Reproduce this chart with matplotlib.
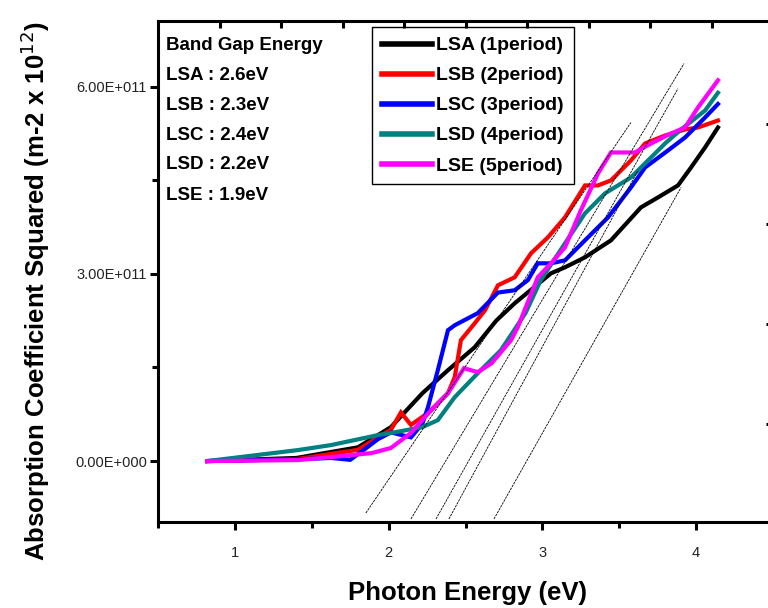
import numpy as np
import matplotlib
matplotlib.use("Agg")
from matplotlib import pyplot as plt
from matplotlib.ticker import FuncFormatter, MultipleLocator

plt.rcParams["font.family"] = ["Liberation Sans", "DejaVu Sans"]

# photon energy (eV) and alpha^2 (in units of 1e11)
lsa_x = [0.82, 1.40, 1.80, 2.015, 2.22, 2.386, 2.56, 2.70, 2.82, 3.056, 3.147, 3.277,
         3.446, 3.641, 3.752, 3.882, 3.967, 4.058, 4.142]
lsa_y = [0.0, 0.05, 0.22, 0.544, 1.088, 1.456, 1.824, 2.25, 2.528, 3.008, 3.104, 3.264,
         3.536, 4.064, 4.224, 4.416, 4.704, 5.024, 5.344]

lsb_x = [0.82, 1.40, 1.80, 1.93, 2.015, 2.08, 2.145, 2.256, 2.386, 2.43, 2.47, 2.56,
         2.627, 2.711, 2.82, 2.926, 3.036, 3.147, 3.277, 3.362, 3.446, 3.576, 3.668,
         3.798, 3.928, 4.012, 4.142]
lsb_y = [0.0, 0.03, 0.18, 0.38, 0.50, 0.78, 0.58, 0.77, 1.088, 1.344, 1.936, 2.208,
         2.416, 2.816, 2.944, 3.328, 3.584, 3.904, 4.416, 4.416, 4.496, 4.816, 5.088,
         5.216, 5.312, 5.344, 5.456]

lsc_x = [0.82, 1.41, 1.625, 1.75, 1.85, 1.93, 2.015, 2.145, 2.22, 2.256, 2.32, 2.386,
         2.43, 2.58, 2.711, 2.82, 2.906, 2.97, 3.056, 3.147, 3.277, 3.427, 3.576, 3.668,
         3.817, 3.928, 4.058, 4.142]
lsc_y = [0.0, 0.03, 0.05, 0.02, 0.20, 0.35, 0.46, 0.38, 0.60, 0.864, 1.456, 2.096,
         2.176, 2.37, 2.70, 2.736, 2.90, 3.168, 3.168, 3.216, 3.536, 3.904, 4.384, 4.704,
         4.976, 5.184, 5.504, 5.72]

lsd_x = [0.82, 1.41, 1.625, 1.93, 2.015, 2.22, 2.32, 2.43, 2.58, 2.73, 2.89, 2.99,
         3.147, 3.277, 3.407, 3.576, 3.687, 3.798, 3.902, 4.058, 4.142]
lsd_y = [0.0, 0.176, 0.256, 0.416, 0.45, 0.544, 0.656, 1.024, 1.408, 1.776, 2.37, 2.90,
         3.488, 3.968, 4.288, 4.544, 4.816, 5.088, 5.312, 5.616, 5.90]

lse_x = [0.82, 1.41, 1.625, 1.89, 2.015, 2.145, 2.26, 2.386, 2.49, 2.58, 2.67, 2.796,
         2.84, 2.97, 3.056, 3.147, 3.25, 3.362, 3.446, 3.602, 3.707, 3.837, 3.928,
         4.012, 4.142]
lse_y = [0.0, 0.016, 0.064, 0.128, 0.21, 0.45, 0.77, 1.088, 1.488, 1.424, 1.568, 1.936,
         2.144, 2.944, 3.168, 3.424, 4.016, 4.608, 4.944, 4.944, 5.088, 5.248, 5.344,
         5.664, 6.10]

series_labels = ["LSA (1period)", "LSB (2period)", "LSC (3period)",
                 "LSD (4period)", "LSE (5period)"]
series_colors = ["#000000", "#ff0000", "#0000ff", "#008080", "#ff00ff"]

# linear extrapolation lines (eV, 1e11)
tan_x0 = [1.852, 2.145, 2.308, 2.392, 2.685]
tan_y0 = [-0.832, -0.928, -0.928, -0.928, -0.928]
tan_x1 = [3.576, 3.921, 3.882, 3.622, 3.902]
tan_y1 = [5.424, 6.368, 5.968, 4.656, 4.384]

gap_names = ["LSA", "LSB", "LSC", "LSD", "LSE"]
gap_values = [2.6, 2.3, 2.4, 2.2, 1.9]

SCALE = 1e11


def sci_fmt(v, pos):
    if abs(v) < 1e-3:
        return "0.00E+000"
    exp = int(np.floor(np.log10(abs(v))))
    return "%.2fE+%03d" % (v / 10 ** exp, exp)


def main():
    fig = plt.figure(figsize=(7.68, 6.08), dpi=100)
    ax = fig.add_axes([158 / 768, 1 - 522 / 608, 615 / 768, 501 / 608])

    xs = [lsa_x, lsb_x, lsc_x, lsd_x, lse_x]
    ys = [lsa_y, lsb_y, lsc_y, lsd_y, lse_y]
    for x, y, lab, col in zip(xs, ys, series_labels, series_colors):
        ax.plot(x, np.array(y) * SCALE, color=col, lw=3.0, label=lab,
                solid_joinstyle="miter")

    for x0, y0, x1, y1 in zip(tan_x0, tan_y0, tan_x1, tan_y1):
        ax.plot([x0, x1], [y0 * SCALE, y1 * SCALE], color="black", lw=0.6,
                linestyle=(0, (3, 1)))

    ax.set_xlim(0.5, 4.5)
    ax.set_ylim(-0.976 * SCALE, 7.05 * SCALE)
    ax.xaxis.set_major_locator(MultipleLocator(1))
    ax.xaxis.set_minor_locator(MultipleLocator(0.5))
    ax.yaxis.set_major_locator(MultipleLocator(3 * SCALE))
    ax.yaxis.set_minor_locator(MultipleLocator(1.5 * SCALE))
    ax.yaxis.set_major_formatter(FuncFormatter(sci_fmt))

    for s in ax.spines.values():
        s.set_linewidth(2.2)
    ax.tick_params(which="major", direction="out", length=6, width=2.2,
                   labelsize=10.5, colors="black")
    ax.tick_params(which="minor", direction="out", length=4, width=2.2)
    ax.tick_params(axis="y", labelcolor="#222222", pad=2)
    ax.tick_params(axis="x", labelcolor="#222222", pad=11)

    # top / right ticks on their own scales
    tx = ax.twiny()
    tx.set_xlim(ax.get_xlim())
    tx.set_xticks(np.arange(0.9, 4.5, 0.4))
    tx.tick_params(direction="in", length=5, width=2.2, labeltop=False)
    ty = ax.twinx()
    ty.set_ylim(ax.get_ylim())
    ty.set_yticks(np.array([0.592, 2.192, 3.792, 5.392]) * SCALE)
    ty.tick_params(direction="in", length=5, width=2.2, labelright=False)

    ax.set_xlabel("Photon Energy (eV)", fontsize=18.5, fontweight="bold")
    ax.xaxis.set_label_coords(0.504, -0.118)
    ax.set_ylabel("Absorption Coefficient Squared (m-2 x 10$^{12}$)", fontsize=18.5,
                  fontweight="bold")
    ax.yaxis.set_label_coords(-0.172, 0.46)

    leg = ax.legend(loc="upper left", bbox_to_anchor=(372 / 768, 1 - 27 / 608),
                    bbox_transform=fig.transFigure, borderaxespad=0, fancybox=False,
                    frameon=True, framealpha=1, edgecolor="black", handlelength=2.6,
                    handletextpad=0.2, labelspacing=0.64, borderpad=0.5,
                    prop={"weight": "bold", "size": 14})
    leg.get_frame().set_linewidth(1.0)
    for h in leg.get_lines():
        h.set_linewidth(4)

    fig.text(166 / 768, 1 - 45 / 608, "Band Gap Energy", fontsize=13.5, fontweight="bold",
             va="center", ha="left")
    for i, (n, g) in enumerate(zip(gap_names, gap_values)):
        fig.text(166 / 768, 1 - (75 + 30 * i) / 608, "%s : %.1feV" % (n, g), fontsize=13.5,
                 fontweight="bold", va="center", ha="left")

    fig.savefig("out.png", dpi=100)


if __name__ == "__main__":
    main()
